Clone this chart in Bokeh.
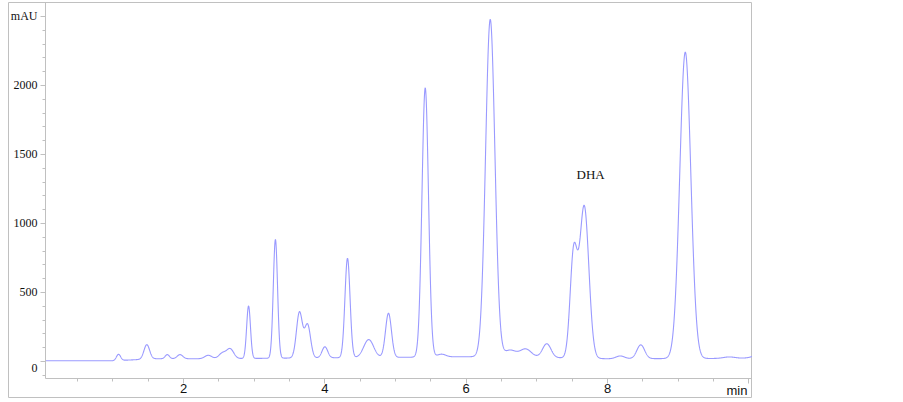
import numpy as np
from bokeh.plotting import figure
from bokeh.models import Range1d, SingleIntervalTicker, Label, ColumnDataSource
from bokeh.embed import file_html
from bokeh.resources import INLINE

# Peak table (retention time [min], height above baseline [mAU], sigma [min])
peak_times = [1.08, 1.48, 1.77, 1.95, 2.35, 2.55, 2.66, 2.92, 3.30, 3.64, 3.755, 4.00, 4.32, 4.62, 4.90,
              5.42, 5.65, 6.34, 6.62, 6.84, 7.14, 7.52, 7.67, 8.18, 8.47, 9.10, 9.72, 10.20]
peak_heights = [45, 105, 30, 30, 25, 40, 70, 380, 860, 330, 240, 80, 720, 130, 320,
                1950, 20, 2445, 50, 60, 100, 745, 1100, 20, 100, 2220, 10, 40]
peak_widths = [0.03, 0.04, 0.03, 0.04, 0.05, 0.05, 0.05, 0.027, 0.03, 0.042, 0.042, 0.04, 0.036, 0.07, 0.042,
               0.046, 0.06, 0.066, 0.08, 0.08, 0.06, 0.05, 0.065, 0.06, 0.055, 0.078, 0.08, 0.1]

# Baseline level
baseline_times = [0.0, 1.0, 1.6, 2.5, 3.5, 5.0, 6.0, 7.0, 8.0, 9.5, 10.1]
baseline_levels = [5, 5, 20, 20, 25, 30, 35, 30, 20, 22, 25]

y_tick_labels = {0: "", 2500: "mAU"}
x_tick_labels = {10: ""}

# visible data window of the axes (min, mAU)
t_start, t_end = 0.047, 10.051
a_start, a_end = -123.2, 2601

t = np.linspace(t_start, t_end, 4000)
signal = np.interp(t, baseline_times, baseline_levels)
for rt, h, w in zip(peak_times, peak_heights, peak_widths):
    signal = signal + h * np.exp(-0.5 * ((t - rt) / w) ** 2)

src = ColumnDataSource(data=dict(t=t, mau=signal))

grey = "#c0c0c0"
p = figure(frame_width=744, frame_height=396, output_backend="svg", toolbar_location=None,
           x_range=Range1d(-0.477, t_end), y_range=Range1d(-268, a_end),
           min_border_left=0, min_border_right=0, min_border_top=0, min_border_bottom=0,
           background_fill_color="white", border_fill_color="white")
p.margin = (2, 0, 0, 8)
p.outline_line_color = grey
p.xgrid.visible = False
p.ygrid.visible = False

p.line("t", "mau", source=src, line_color="#9a9aff", line_width=1.1)

p.yaxis.fixed_location = t_start
p.yaxis.bounds = (a_start, a_end)
p.yaxis.ticker = SingleIntervalTicker(interval=500, num_minor_ticks=5)
p.yaxis.major_label_overrides = y_tick_labels
p.yaxis.major_tick_out = 5
p.yaxis.major_tick_in = 0
p.yaxis.minor_tick_out = 3
p.yaxis.minor_tick_in = 0
p.yaxis.axis_line_color = grey
p.yaxis.major_tick_line_color = grey
p.yaxis.minor_tick_line_color = grey
p.yaxis.major_label_text_font = "Liberation Serif"
p.yaxis.major_label_text_font_size = "12px"
p.yaxis.major_label_text_color = "#111111"
p.yaxis.major_label_standoff = 3

p.xaxis.fixed_location = a_start
p.xaxis.bounds = (t_start, t_end)
p.xaxis.ticker = SingleIntervalTicker(interval=2, num_minor_ticks=4)
p.xaxis.major_label_overrides = x_tick_labels
p.xaxis.major_tick_out = 5
p.xaxis.major_tick_in = 0
p.xaxis.minor_tick_out = 3
p.xaxis.minor_tick_in = 0
p.xaxis.axis_line_color = grey
p.xaxis.major_tick_line_color = grey
p.xaxis.minor_tick_line_color = grey
p.xaxis.major_label_text_font = "Liberation Sans"
p.xaxis.major_label_text_font_size = "13px"
p.xaxis.major_label_text_color = "#111111"
p.xaxis.major_label_standoff = 0

p.add_layout(Label(x=-0.066, y=-43.5, text="0", text_align="right", text_baseline="middle",
                   text_font="Liberation Serif", text_font_size="12px", text_color="#111111"))
p.add_layout(Label(x=9.98, y=-210, text="min", text_align="right", text_baseline="middle",
                   text_font="Liberation Sans", text_font_size="13px", text_color="#111111"))
p.add_layout(Label(x=7.76, y=1355, text="DHA", text_align="center", text_baseline="middle",
                   text_font="Liberation Serif", text_font_size="13px", text_color="#111111"))

open("out.html", "w").write(file_html(p, INLINE))
